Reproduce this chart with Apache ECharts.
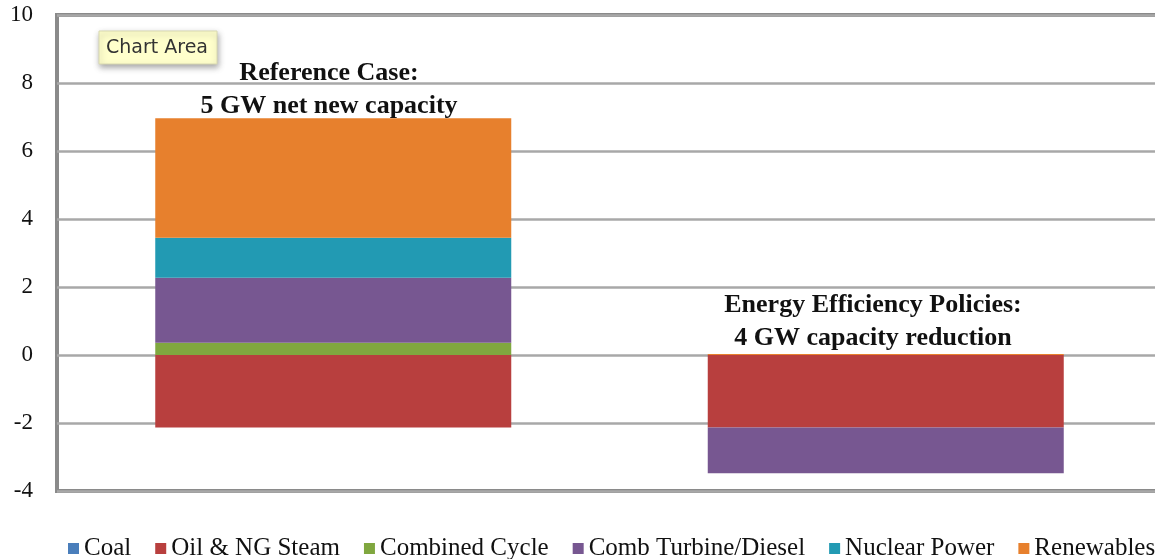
<!DOCTYPE html>
<html>
<head>
<meta charset="utf-8">
<script src="https://cdn.jsdelivr.net/npm/echarts@6/dist/echarts.min.js"></script>
<style>
html,body{margin:0;padding:0;background:#fff;}
#chart{width:1155px;height:559px;}
</style>
</head>
<body>
<div id="chart"></div>
<script>
const categories = ['Reference Case', 'Energy Efficiency Policies'];
const seriesNames = ['Coal', 'Oil & NG Steam', 'Combined Cycle', 'Comb Turbine/Diesel', 'Nuclear Power', 'Renewables'];
const coal = [0, 0];
const oilNgSteam = [-2.13, -2.13];
const combinedCycle = [0.36, 0];
const combTurbineDiesel = [1.91, -1.35];
const nuclearPower = [1.18, 0];
const renewables = [3.51, 0.03];
const yTicks = [-4, -2, 0, 2, 4, 6, 8, 10];
const annotations = [
  ['Reference Case:', '5 GW net new capacity'],
  ['Energy Efficiency Policies:', '4 GW capacity reduction']
];

const colors = ['#4a7ebb', '#b83f3e', '#80a73f', '#775791', '#229ab3', '#e7802d'];
const values = [coal, oilNgSteam, combinedCycle, combTurbineDiesel, nuclearPower, renewables];
const serif = '"Liberation Serif", "Times New Roman", serif';

const chart = echarts.init(document.getElementById('chart'));
const option = {
  animation: false,
  grid: {left: 57, top: 15, width: 1105, height: 476, show: true, borderColor: '#8a8a8a', borderWidth: 4, backgroundColor: '#fff', outerBoundsMode: 'none', containLabel: false},
  xAxis: {
    type: 'category', data: categories,
    axisLine: {show: false}, axisTick: {show: false}, axisLabel: {show: false}
  },
  yAxis: {
    type: 'value', min: yTicks[0], max: yTicks[yTicks.length - 1], interval: 2,
    axisLine: {show: false}, axisTick: {show: false},
    axisLabel: {fontFamily: serif, fontSize: 23, color: '#111', margin: 24},
    splitLine: {lineStyle: {color: '#a8a8a8', width: 2.5}}
  },
  legend: {
    left: 63, top: 531, width: 1400,
    itemWidth: 11, itemHeight: 11, itemGap: 24,
    icon: 'rect',
    textStyle: {fontFamily: serif, fontSize: 25, color: '#111', padding: [0, 0, 0, 0]},
    data: seriesNames
  },
  series: seriesNames.map((name, i) => ({
    name: name, type: 'bar', stack: 'total', data: values[i],
    barWidth: 356,
    itemStyle: {color: colors[i]}
  })),
  graphic: [
    ...annotations.map((lines, k) => ({
      type: 'group',
      children: lines.map((t, j) => ({
        type: 'text',
        x: k === 0 ? 329 : 873,
        y: (k === 0 ? 73 : 305) + j * 33,
        style: {text: t, fontFamily: serif, fontWeight: 'bold', fontSize: 26, fill: '#111', align: 'center', verticalAlign: 'middle'}
      }))
    })),
    {
      type: 'group', x: 99, y: 31,
      children: [
        {type: 'rect', shape: {x: 0, y: 0, width: 118, height: 33},
         style: {fill: '#ffffcc', stroke: '#d8d8b0', lineWidth: 1, shadowBlur: 6, shadowOffsetX: 1, shadowOffsetY: 3, shadowColor: 'rgba(0,0,0,0.35)'}},
        {type: 'text', x: 58, y: 17,
         style: {text: 'Chart Area', fontFamily: '"DejaVu Sans", sans-serif', fontSize: 19, fill: '#333', align: 'center', verticalAlign: 'middle'}}
      ]
    }
  ]
};
chart.setOption(option);
</script>
</body>
</html>
